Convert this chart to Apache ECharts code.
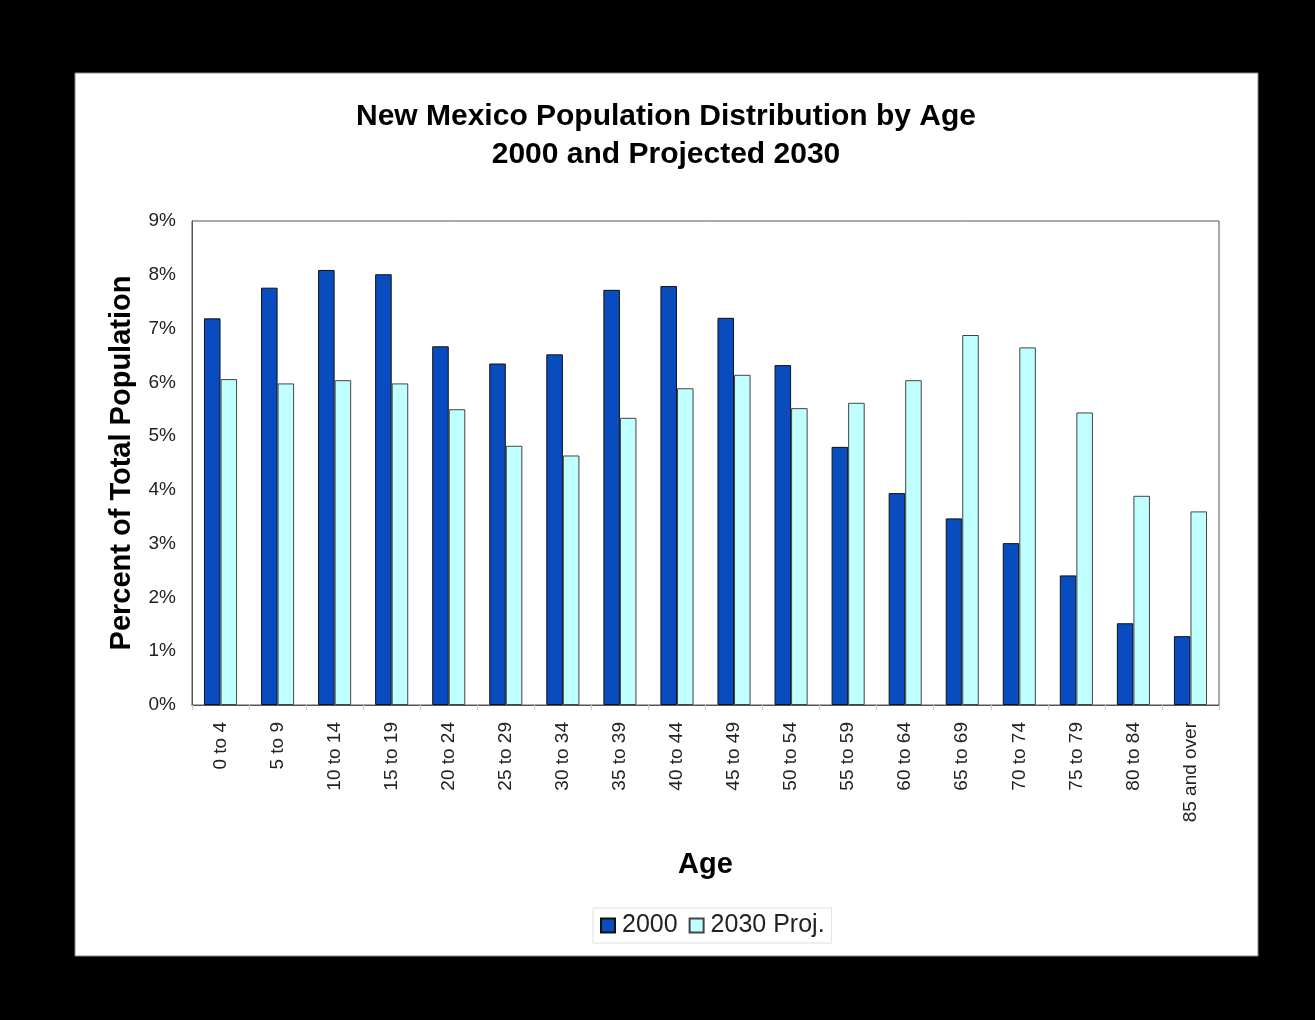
<!DOCTYPE html>
<html>
<head>
<meta charset="utf-8">
<script src="https://cdn.jsdelivr.net/npm/echarts@6/dist/echarts.min.js"></script>
<style>
html,body{margin:0;padding:0;background:#000;}
#chart{width:1315px;height:1020px;}
</style>
</head>
<body>
<div id="chart"></div>
<script>
const categories = ["0 to 4","5 to 9","10 to 14","15 to 19","20 to 24","25 to 29","30 to 34","35 to 39","40 to 44","45 to 49","50 to 54","55 to 59","60 to 64","65 to 69","70 to 74","75 to 79","80 to 84","85 and over"];
const values2000 = [7.19,7.76,8.09,8.01,6.67,6.35,6.52,7.72,7.79,7.20,6.32,4.80,3.94,3.47,3.01,2.41,1.52,1.28];
const values2030 = [6.06,5.98,6.04,5.98,5.50,4.82,4.64,5.34,5.89,6.14,5.52,5.62,6.04,6.88,6.65,5.44,3.89,3.60];
const yTicks = {min:0, max:9, interval:1};
const titleLines = ["New Mexico Population Distribution by Age","2000 and Projected 2030"];

const chart = echarts.init(document.getElementById('chart'), null, {renderer:'canvas'});
const font = '"Liberation Sans", Arial, sans-serif';
chart.setOption({
  backgroundColor:'#000',
  animation:false,
  graphic:[
    {type:'rect', z:-10, shape:{x:75,y:73,width:1183,height:883}, style:{fill:'#fff', stroke:'#888', lineWidth:1}},
    {type:'text', z:10, style:{text:titleLines[0], x:666, y:117, textAlign:'center', textVerticalAlign:'middle', font:'bold 30px '+font, fill:'#000'}},
    {type:'text', z:10, style:{text:titleLines[1], x:666, y:155, textAlign:'center', textVerticalAlign:'middle', font:'bold 30px '+font, fill:'#000'}}
  ],
  grid:{left:192, top:221, width:1027, height:484, show:true, borderColor:'#555', borderWidth:1, backgroundColor:'#fff'},
  legend:{
    data:['2000','2030 Proj.'],
    left:593, top:908, itemWidth:14, itemHeight:14, itemGap:11,
    padding:[5,7,5,7],
    borderColor:'#e0e0e0', borderWidth:1,
    textStyle:{fontSize:25, color:'#222', fontFamily:font, padding:[0,0,0,2]},
    icon:'rect'
  },
  xAxis:{
    type:'category', data:categories,
    name:'Age', nameLocation:'middle', nameGap:145,
    nameTextStyle:{fontSize:29, fontWeight:'bold', color:'#000', fontFamily:font},
    axisLine:{lineStyle:{color:'#555'}},
    axisTick:{show:true, length:5, lineStyle:{color:'#ccc'}},
    axisLabel:{rotate:90, fontSize:19, color:'#222', fontFamily:font, margin:17, interval:0}
  },
  yAxis:{
    type:'value', min:yTicks.min, max:yTicks.max, interval:yTicks.interval,
    name:'Percent of Total Population', nameLocation:'middle', nameGap:56,
    nameTextStyle:{fontSize:29, fontWeight:'bold', color:'#000', fontFamily:font},
    axisLine:{show:true, lineStyle:{color:'#555'}},
    axisTick:{show:false},
    splitLine:{show:false},
    axisLabel:{formatter:'{value}%', fontSize:19, color:'#222', fontFamily:font, margin:16}
  },
  series:[
    {name:'2000', type:'bar', data:values2000, barWidth:'29%', barGap:'0%',
     itemStyle:{color:'#094CBF', borderColor:'#111', borderWidth:1}},
    {name:'2030 Proj.', type:'bar', data:values2030, barWidth:'29%', barGap:'0%',
     itemStyle:{color:'#C0FFFF', borderColor:'#444', borderWidth:1}}
  ]
});
</script>
</body>
</html>
